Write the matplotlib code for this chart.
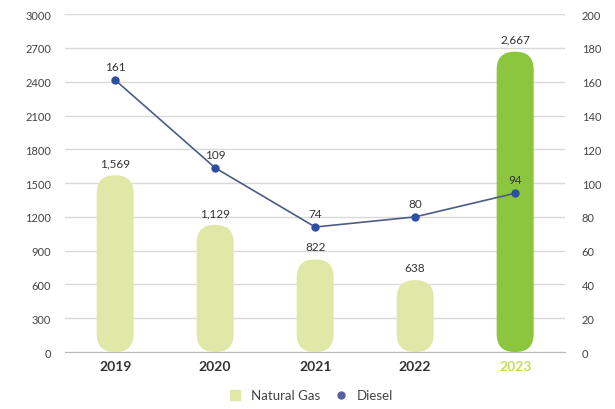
import matplotlib
matplotlib.use("Agg")
import matplotlib.pyplot as plt
from matplotlib.patches import FancyBboxPatch
from matplotlib.lines import Line2D

years = ["2019", "2020", "2021", "2022", "2023"]
natural_gas = [1569, 1129, 822, 638, 2667]
diesel = [161, 109, 74, 80, 94]
left_ticks = [0, 300, 600, 900, 1200, 1500, 1800, 2100, 2400, 2700, 3000]
right_ticks = [0, 20, 40, 60, 80, 100, 120, 140, 160, 180, 200]

pale = "#dfe8a6"
bright = "#8cc63f"
line_col = "#4d5b85"
dot_col = "#2c4fa3"
tick_col = "#444444"

plt.rcParams["font.family"] = ["Lato", "DejaVu Sans"]

fig = plt.figure(figsize=(6.15, 4.10), dpi=100)
ax = fig.add_axes([0.106, 0.139, 0.813, 0.824])
ax.set_xlim(-0.5, 4.5)
ax.set_ylim(0, 3000)

# pixel aspect for rounded bar ends
bbox = ax.get_window_extent()
x_per_px = 5.0 / bbox.width
y_per_px = 3000.0 / bbox.height
aspect = y_per_px / x_per_px

width = 0.37
for i, v in enumerate(natural_gas):
    col = bright if i == len(natural_gas) - 1 else pale
    patch = FancyBboxPatch((i - width / 2, 0), width, v,
                           boxstyle="round,pad=0,rounding_size=0.18",
                           mutation_aspect=aspect,
                           facecolor=col, edgecolor="none", zorder=2)
    ax.add_patch(patch)
    ax.annotate(f"{v:,}", (i, v), xytext=(0, 5), textcoords="offset points",
                ha="center", va="bottom", fontsize=8.5, color="#333333", zorder=5)

ax.set_yticks(left_ticks)
ax.set_xticks(range(len(years)))
ax.set_xticklabels(years, fontsize=10, fontweight="bold", color="#333333")
ax.get_xticklabels()[-1].set_color("#c9dc5a")
ax.tick_params(axis="y", labelsize=8, colors=tick_col, length=0, pad=10)
ax.tick_params(axis="x", length=0, pad=6)
ax.grid(axis="y", color="#d9d9d9", linewidth=1, zorder=0)
ax.set_axisbelow(True)
for s in ["top", "right", "left"]:
    ax.spines[s].set_visible(False)
ax.spines["bottom"].set_color("#bbbbbb")

ax2 = ax.twinx()
ax2.set_ylim(0, 200)
ax2.set_yticks(right_ticks)
ax2.tick_params(axis="y", labelsize=8, colors=tick_col, length=0, pad=12)
for s in ax2.spines.values():
    s.set_visible(False)
ax2.plot(range(len(diesel)), diesel, color=line_col, linewidth=1.2,
         marker="o", markersize=5, markerfacecolor=dot_col,
         markeredgecolor=dot_col, zorder=4)
for i, v in enumerate(diesel):
    ax2.annotate(str(v), (i, v), xytext=(0, 6), textcoords="offset points",
                 ha="center", va="bottom", fontsize=8.5, color="#333333")

handles = [
    Line2D([], [], marker="s", linestyle="none", markersize=7,
           markerfacecolor=pale, markeredgecolor=pale, label="Natural Gas"),
    Line2D([], [], marker="o", linestyle="none", markersize=5,
           markerfacecolor="#5a5f9e", markeredgecolor="#5a5f9e", label="Diesel"),
]
fig.legend(handles=handles, loc="lower center", bbox_to_anchor=(0.5, -0.01),
           ncol=2, frameon=False, fontsize=9.5, handletextpad=0.2,
           columnspacing=0.6, labelcolor="#444444")

fig.savefig("out.png", dpi=100)
